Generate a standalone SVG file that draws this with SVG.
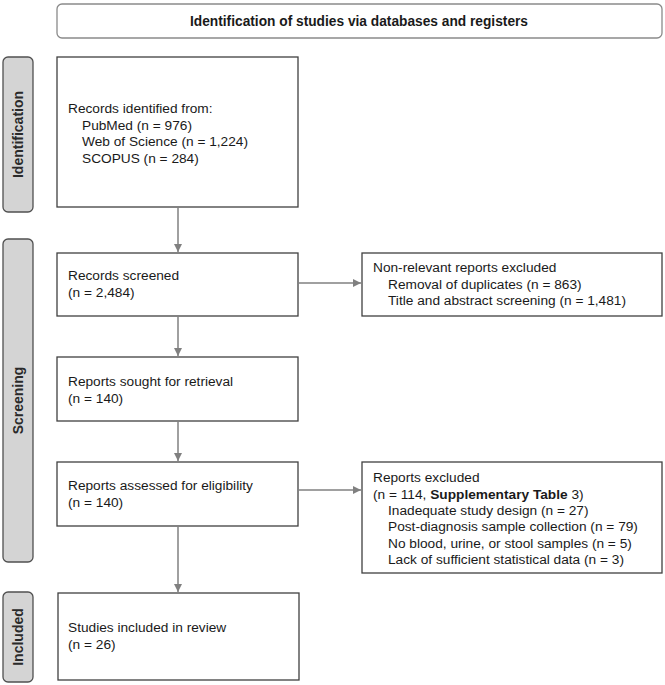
<svg xmlns="http://www.w3.org/2000/svg" width="665" height="685" viewBox="0 0 665 685">
<style>
.bg{fill:#ffffff}
.box{fill:#ffffff;stroke:#404040;stroke-width:1.3}
.hdr{fill:#ffffff;stroke:#8a8a8a;stroke-width:1.3}
.side{fill:#d4d4d4;stroke:#505050;stroke-width:1.3}
.t{font-family:"Liberation Sans",Arial,sans-serif;font-size:13.7px;fill:#1a1a1a}
.st{font-family:"Liberation Sans",Arial,sans-serif;font-size:14px;font-weight:bold;fill:#2a2a2a}
.ht{font-family:"Liberation Sans",Arial,sans-serif;font-size:14px;font-weight:bold;fill:#1a1a1a}
.c{stroke:#808080;stroke-width:1.5;fill:none}
</style>
<defs>
<marker id="ah" viewBox="0 0 10 10" refX="10" refY="5" markerWidth="8" markerHeight="8" markerUnits="userSpaceOnUse" orient="auto">
<path d="M0,0 L10,5 L0,10 z" fill="#808080"/>
</marker>
</defs>
<rect class="bg" x="0" y="0" width="665" height="685"/>

<g id="header">
<rect class="hdr" x="57" y="4" width="605" height="34" rx="5"/>
<text class="ht" x="359" y="26" text-anchor="middle" textLength="338" lengthAdjust="spacingAndGlyphs">Identification of studies via databases and registers</text>
</g>

<g id="label-identification">
<rect class="side" x="3" y="57" width="30" height="155" rx="5"/>
<text class="st" transform="translate(23,134.5) rotate(-90)" text-anchor="middle">Identification</text>
</g>
<g id="label-screening">
<rect class="side" x="3" y="239" width="30" height="323" rx="5"/>
<text class="st" transform="translate(23,400.5) rotate(-90)" text-anchor="middle">Screening</text>
</g>
<g id="label-included">
<rect class="side" x="3" y="592" width="30" height="90" rx="5"/>
<text class="st" transform="translate(23,637) rotate(-90)" text-anchor="middle">Included</text>
</g>

<g id="records-identified">
<rect class="box" x="57" y="57" width="241" height="150"/>
<text class="t" x="68" y="113">Records identified from:</text>
<text class="t" x="82" y="129.5">PubMed (n = 976)</text>
<text class="t" x="82" y="146">Web of Science (n = 1,224)</text>
<text class="t" x="82" y="162.5">SCOPUS (n = 284)</text>
</g>

<g id="records-screened">
<rect class="box" x="57" y="253" width="241" height="63"/>
<text class="t" x="68" y="280">Records screened</text>
<text class="t" x="68" y="297">(n = 2,484)</text>
</g>

<g id="non-relevant-excluded">
<rect class="box" x="362" y="253" width="300" height="63"/>
<text class="t" x="373" y="272">Non-relevant reports excluded</text>
<text class="t" x="388" y="288.5">Removal of duplicates (n = 863)</text>
<text class="t" x="388" y="305">Title and abstract screening (n = 1,481)</text>
</g>

<g id="reports-sought">
<rect class="box" x="57" y="357" width="241" height="64"/>
<text class="t" x="68" y="386">Reports sought for retrieval</text>
<text class="t" x="68" y="403">(n = 140)</text>
</g>

<g id="reports-assessed">
<rect class="box" x="57" y="462" width="241" height="64"/>
<text class="t" x="68" y="490">Reports assessed for eligibility</text>
<text class="t" x="68" y="507">(n = 140)</text>
</g>

<g id="reports-excluded">
<rect class="box" x="362" y="462" width="300" height="111"/>
<text class="t" x="373" y="482">Reports excluded</text>
<text class="t" x="373" y="498.5">(n = 114, <tspan font-weight="bold">Supplementary Table</tspan> 3)</text>
<text class="t" x="388" y="515">Inadequate study design (n = 27)</text>
<text class="t" x="388" y="531">Post-diagnosis sample collection (n = 79)</text>
<text class="t" x="388" y="547.5">No blood, urine, or stool samples (n = 5)</text>
<text class="t" x="388" y="564">Lack of sufficient statistical data (n = 3)</text>
</g>

<g id="studies-included">
<rect class="box" x="58" y="593" width="241" height="87"/>
<text class="t" x="68" y="632">Studies included in review</text>
<text class="t" x="68" y="649">(n = 26)</text>
</g>

<g id="connectors">
<line class="c" x1="178" y1="207" x2="178" y2="252" marker-end="url(#ah)"/>
<line class="c" x1="178" y1="316" x2="178" y2="356" marker-end="url(#ah)"/>
<line class="c" x1="178" y1="421" x2="178" y2="461" marker-end="url(#ah)"/>
<line class="c" x1="178" y1="526" x2="178" y2="592" marker-end="url(#ah)"/>
<line class="c" x1="298" y1="283" x2="361" y2="283" marker-end="url(#ah)"/>
<line class="c" x1="298" y1="490" x2="361" y2="490" marker-end="url(#ah)"/>
</g>
</svg>
